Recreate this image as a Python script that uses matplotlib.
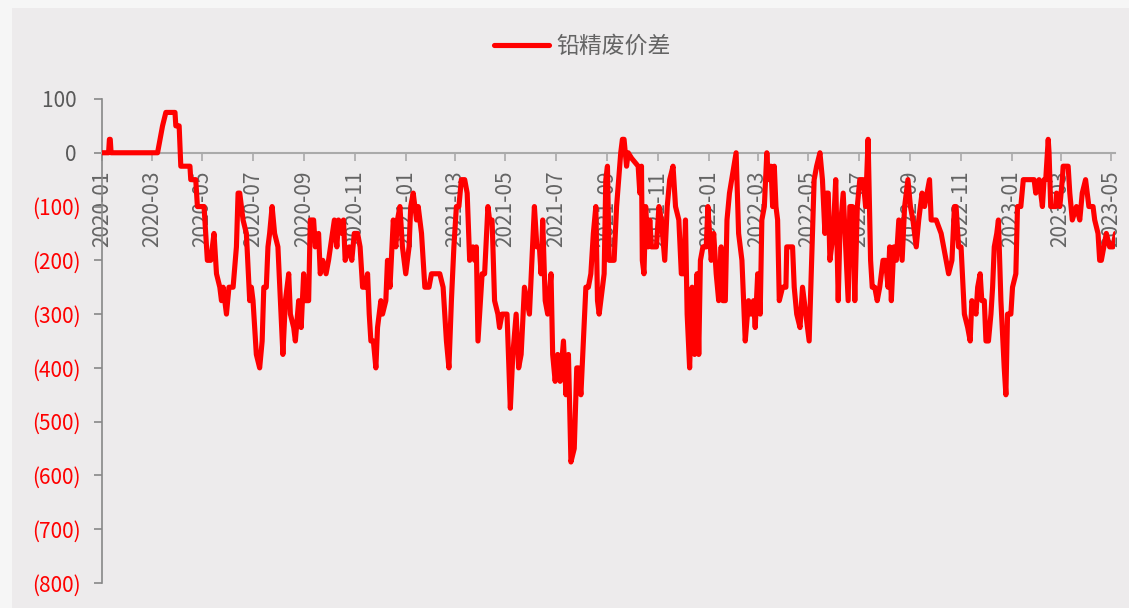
import matplotlib
matplotlib.use('Agg')
import matplotlib.pyplot as plt
import matplotlib.dates as mdates
from matplotlib.patches import Rectangle
import pandas as pd

plt.rcParams['font.family'] = ['Noto Sans CJK SC', 'DejaVu Sans']

# days since 2020-01-01 and spread values
start_date = '2020-01-01'
days = [0, 8, 9, 10, 11, 67, 70, 73, 77, 88, 89, 93, 95, 106, 107, 113, 115, 123,
        127, 131, 135, 138, 142, 144, 146, 150, 153, 158, 162, 164, 166, 170, 174,
        178, 180, 182, 186, 190, 193, 195, 198, 200, 202, 205,
        208, 212, 215, 218, 221, 225, 227, 231, 233, 237, 240, 243, 245, 249, 251,
        255, 257, 261, 263, 266, 270, 273, 280, 283, 285, 289, 291, 293, 298, 301,
        304, 308, 311, 314, 317, 320, 322, 324, 327, 330, 332, 336, 338, 342, 344,
        347, 351, 354, 356, 359, 362, 366, 370, 372, 375, 379, 381, 385, 389, 394,
        397, 403, 407, 411, 415, 418, 421, 424, 427, 430, 433, 437, 440, 443, 447,
        449, 451, 453, 456, 458, 461, 465, 467, 470, 473, 477, 479, 482, 488, 492,
        495, 499, 502, 505, 509, 512, 515, 518, 521, 524, 527, 529, 531, 534, 537,
        541, 543, 546, 549, 552, 556, 559, 562, 565, 569, 572, 574, 577, 583, 586,
        589, 592, 595, 597, 599, 603, 605, 607, 609, 611, 617, 620, 625, 627, 629,
        632, 634, 638, 646, 648, 650, 651, 653, 655, 658, 660, 662, 668, 671, 674,
        678, 681, 684, 688, 691, 695, 698, 701, 703, 705, 708, 711, 714, 717, 719,
        721, 724, 728, 730, 734, 737, 740, 743, 746, 748, 751, 753, 756, 764, 767,
        771, 775, 779, 782, 785, 787, 790, 793, 795, 798, 801, 803, 806, 808, 810,
        812, 814, 816, 820, 824, 825, 832, 834, 837, 841, 844, 848, 852, 856, 858,
        861, 865, 868, 871, 873, 875, 877, 881, 884, 887, 889, 893, 896, 899, 901,
        904, 907, 910, 913, 917, 920, 923, 926, 928, 931, 934, 937, 941, 944, 947,
        949, 951, 954, 957, 960, 964, 967, 971, 974, 977, 981, 984, 988, 991, 994,
        997, 999, 1005, 1011, 1014, 1017, 1020, 1024, 1027, 1029, 1032, 1035, 1039,
        1043, 1046, 1048, 1053, 1055, 1058, 1060, 1063, 1065, 1068, 1071, 1073, 1075,
        1078, 1080, 1083, 1087, 1089, 1091, 1095, 1097, 1101, 1103, 1107, 1110, 1123,
        1125, 1129, 1133, 1135, 1137, 1140, 1141, 1143, 1149, 1150, 1154, 1157, 1158,
        1164, 1166, 1169, 1174, 1178, 1181, 1185, 1189, 1194, 1196, 1200, 1202, 1204,
        1210, 1214, 1218, 1221]
spread = [0, 0, 25, 25, 0, 0, 25, 50, 75, 75, 50, 50, -25, -25, -50, -50, -100, -100,
          -200, -200, -150, -225, -250, -275, -250, -300, -250, -250, -175, -75, -75, -125, -150,
          -275, -250, -275, -375, -400, -350, -250, -250, -175, -150, -100,
          -150, -175, -275, -375, -275, -225, -300, -325, -350, -275, -325, -225, -275, -275, -125,
          -125, -175, -150, -225, -200, -225, -200, -125, -175, -125, -150, -125, -200, -175, -200,
          -150, -150, -175, -250, -250, -225, -300, -350, -350, -400, -325, -275, -300, -275, -200,
          -250, -125, -175, -125, -100, -175, -225, -175, -100, -75, -125, -100, -150, -250, -250,
          -225, -225, -225, -250, -350, -400, -275, -175, -100, -100, -50, -50, -75, -200, -175,
          -200, -175, -350, -275, -225, -225, -100, -125, -125, -275, -300, -325, -300, -300, -475,
          -375, -300, -400, -375, -250, -275, -300, -200, -100, -175, -175, -225, -125, -275, -300,
          -225, -375, -425, -375, -425, -350, -450, -375, -575, -550, -400, -400, -450, -250, -250,
          -225, -150, -100, -275, -300, -250, -225, -50, -25, -200, -200, -100, 0, 25, 25,
          -25, 0, -10, -25, -75, -25, -200, -225, -100, -175, -125, -175, -175, -100, -125,
          -200, -100, -50, -25, -100, -125, -225, -225, -125, -300, -400, -250, -375, -225, -375,
          -200, -175, -175, -100, -200, -150, -225, -275, -175, -275, -275, -125, -75, 0, -150,
          -200, -350, -275, -300, -275, -325, -225, -300, -125, -100, 0, -50, -25, -100, -25,
          -100, -125, -275, -250, -250, -175, -175, -250, -300, -325, -250, -300, -350, -150, -50,
          -25, 0, -50, -150, -75, -75, -200, -150, -50, -275, -150, -75, -175, -275, -100,
          -100, -275, -100, -50, -50, -100, 25, -200, -250, -250, -275, -250, -200, -200, -250,
          -175, -275, -175, -200, -125, -200, -100, -50, -100, -125, -175, -125, -75, -100, -75,
          -50, -125, -125, -150, -175, -200, -225, -200, -100, -100, -175, -175, -300,
          -325, -350, -275, -300, -250, -225, -275, -275, -350, -350, -300, -250, -175,
          -150, -125, -275, -400, -450, -300, -300, -250, -225, -100, -100, -50, -50,
          -75, -50, -100, -50, -50, 25, 0, -100, -100, -75, -100, -50, -25,
          -25, -75, -125, -100, -125, -75, -50, -100, -100, -125, -150, -200, -200,
          -150, -175, -175, -150]
series_name = '铅精废价差'
y_ticks = [100, 0, -100, -200, -300, -400, -500, -600, -700, -800]

dates = pd.Timestamp(start_date) + pd.to_timedelta(days, unit='D')

fig = plt.figure(figsize=(11.29, 6.08), dpi=100, facecolor='#F6F6F6')
fig.patches.append(Rectangle((0.0106, 0), 0.99, 0.987, transform=fig.transFigure,
                             facecolor='#EDEBEC', edgecolor='none', zorder=-10))

ax = fig.add_axes([0.0903, 0.0411, 0.8977, 0.7961])
ax.set_facecolor('none')

ax.plot(dates, spread, color='#FF0000', linewidth=3.7, label=series_name,
        solid_joinstyle='round', solid_capstyle='round', zorder=3)

ax.set_ylim(-800, 100)
ax.set_xlim(pd.Timestamp(start_date), pd.Timestamp(start_date) + pd.Timedelta(days=1221))

# y axis: accounting-style labels, negatives red
ax.set_yticks(y_ticks)
ax.set_yticklabels([f'{v} ' if v >= 0 else f'({-v})' for v in y_ticks], fontsize=15)
for lab, v in zip(ax.get_yticklabels(), y_ticks):
    lab.set_color('#595959' if v >= 0 else '#FF0000')
ax.tick_params(axis='y', length=6, width=1.2, color='#888888', pad=9)

# x axis sits on zero
ax.xaxis.set_major_locator(mdates.MonthLocator(bymonth=[1, 3, 5, 7, 9, 11]))
ax.xaxis.set_major_formatter(mdates.DateFormatter('%Y-%m'))
ax.tick_params(axis='x', length=6, width=1.2, color='#AAAAAA', pad=7,
               labelsize=15, labelcolor='#646464', labelrotation=90)

ax.spines['bottom'].set_position(('data', 0))
ax.spines['bottom'].set_color('#AAAAAA')
ax.spines['bottom'].set_linewidth(1.5)
ax.spines['left'].set_color('#888888')
ax.spines['left'].set_linewidth(1.2)
ax.spines['top'].set_visible(False)
ax.spines['right'].set_visible(False)

leg = fig.legend(loc='center', bbox_to_anchor=(0.516, 0.924), frameon=False,
                 fontsize=16.5, handlelength=2.4, handletextpad=0.3)
for t in leg.get_texts():
    t.set_color('#646464')

fig.savefig('out.png', dpi=100, facecolor=fig.get_facecolor())
